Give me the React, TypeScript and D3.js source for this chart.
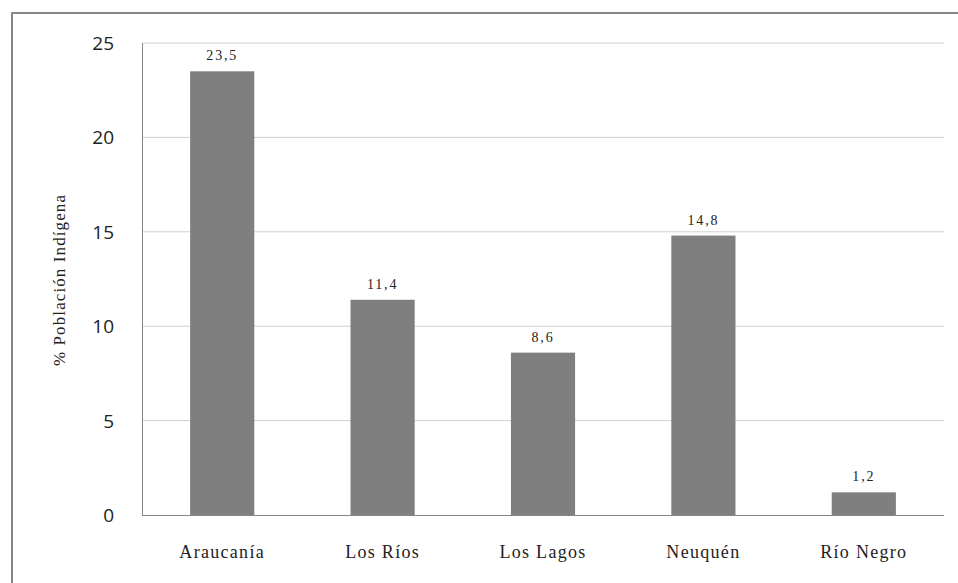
import React from "react";
import * as d3 from "d3";

const categories = ["Araucanía", "Los Ríos", "Los Lagos", "Neuquén", "Río Negro"];
const values = [23.5, 11.4, 8.6, 14.8, 1.2];
const valueLabels = ["23,5", "11,4", "8,6", "14,8", "1,2"];
const yTicks = [0, 5, 10, 15, 20, 25];
const yTitle = "% Población Indígena";

export default function App() {
  const W = 958, H = 583;
  const left = 142, right = 944, top = 43, bottom = 515;
  const x = d3.scaleBand<string>().domain(categories).range([left, right]).paddingInner(0.6).paddingOuter(0.3);
  const y = d3.scaleLinear().domain([0, 25]).range([bottom, top]);
  const serif = "'Liberation Serif', 'Times New Roman', serif";
  return (
    <svg width={W} height={H} style={{ position: "absolute", left: 0, top: 0 }}>
      <rect x={0} y={0} width={W} height={H} fill="#fff" />
      <rect x={12} y={13} width={W + 10} height={H + 10} fill="none" stroke="#868686" strokeWidth={2} />
      {yTicks.map((t) => (
        <g key={t}>
          {t > 0 && <line x1={left} x2={right} y1={y(t)} y2={y(t)} stroke="#d0d0d0" strokeWidth={1} />}
          <text x={114} y={y(t) + 7} textAnchor="end" fontFamily="'Open Sans', 'DejaVu Sans', sans-serif" fontSize={19} fill="#222">{t}</text>
        </g>
      ))}
      <line x1={left + 0.5} x2={left + 0.5} y1={top} y2={bottom} stroke="#868686" />
      {categories.map((c, i) => (
        <g key={c}>
          <rect x={x(c)} y={y(values[i])} width={x.bandwidth()} height={bottom - y(values[i])} fill="#7f7f7f" />
          <text x={(x(c) as number) + x.bandwidth() / 2} y={y(values[i]) - 11} textAnchor="middle" fontFamily={serif} fontSize={14} letterSpacing={1.8} fill="#222">{valueLabels[i]}</text>
          <text x={(x(c) as number) + x.bandwidth() / 2} y={558} textAnchor="middle" fontFamily={serif} fontSize={18} letterSpacing={1.3} fill="#222">{c}</text>
        </g>
      ))}
      <line x1={left} x2={right} y1={bottom + 0.5} y2={bottom + 0.5} stroke="#868686" />
      <text transform={`translate(65,280) rotate(-90)`} textAnchor="middle" fontFamily={serif} fontSize={17} letterSpacing={1.1} fill="#222">{yTitle}</text>
    </svg>
  );
}
